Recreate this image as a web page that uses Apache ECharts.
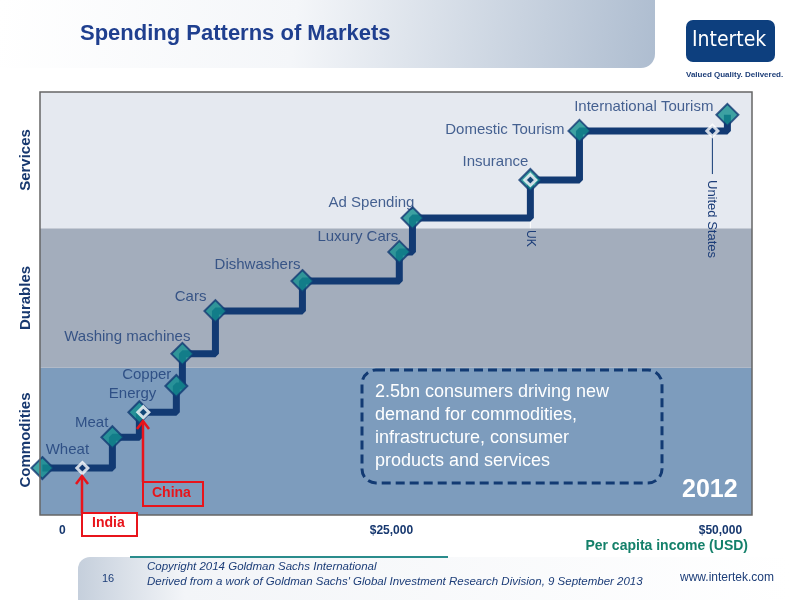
<!DOCTYPE html>
<html><head><meta charset="utf-8">
<script src="https://cdn.jsdelivr.net/npm/echarts@6/dist/echarts.min.js"></script>
<style>html,body{margin:0;padding:0;background:#fff}#c{width:800px;height:600px}</style>
</head><body><div id="c"></div>
<script>
// Steps: [income USD, level index 0-100]
const stepNames = ['Wheat','Meat','Energy','Copper','Washing machines','Cars','Dishwashers','Luxury Cars','Ad Spending','Insurance','Domestic Tourism','International Tourism'];
const stepX = [-1520, 3800, 5850, 8660, 9120, 11630, 18240, 25600, 26600, 35560, 39290, 50530];
const stepY = [11.1, 18.4, 24.3, 30.5, 38.1, 48.2, 55.3, 62.2, 70.2, 79.2, 90.8, 94.6];
const countryNames = ['India','China','UK','United States'];
const countryX = [1520, 6150, 35560, 49390];
const countryY = [11.1, 24.3, 79.2, 90.8];
const xTicks = [0, 25000, 50000];
const xTickLabels = ['0', '$25,000', '$50,000'];
const bands = [['Commodities',0,34.8],['Durables',34.8,67.8],['Services',67.8,100]];

const labelOpts = {
  'Wheat':{position:'top',offset:[25,6]},
  'Meat':{position:'left',offset:[13,-14]},
  'Energy':{position:'left',offset:[34,-18]},
  'Copper':{position:'left',offset:[12,-11]},
  'Washing machines':{position:'left',offset:[25,-17]},
  'Cars':{position:'left',offset:[8,-14]},
  'Dishwashers':{position:'left',offset:[15,-16]},
  'Luxury Cars':{position:'left',offset:[16,-15]},
  'Ad Spending':{position:'left',offset:[19,-15]},
  'Insurance':{position:'left',offset:[15,-18]},
  'Domestic Tourism':{position:'left',offset:[2,-1]},
  'International Tourism':{position:'left',offset:[3,-8]}
};
const bandColors = {'Commodities':'#7d9cbd','Durables':'#a3adbc','Services':'#e5e9f0'};

const chart = echarts.init(document.getElementById('c'));
const lineData = stepX.map((x,i)=>[x,stepY[i]]);
chart.setOption({
  animation:false,
  grid:{left:40,right:48,top:92,bottom:85},
  xAxis:{type:'value',min:-1700,max:52400,splitLine:{show:false},axisLine:{show:false},axisTick:{show:false},
    axisLabel:{customValues:xTicks,formatter:v=>xTickLabels[xTicks.indexOf(v)]||'',color:'#17386f',fontWeight:'bold',fontSize:12,fontFamily:'Liberation Sans',margin:10}},
  yAxis:{type:'value',min:0,max:100,show:false},
  series:[
    {type:'line',step:'end',data:lineData,symbol:'none',lineStyle:{color:'#123a73',width:7},z:3,
      markArea:{silent:true,data:bands.map(b=>[{yAxis:b[1],itemStyle:{color:bandColors[b[0]]}},{yAxis:b[2]}])}},
    {type:'scatter',z:5,symbol:'diamond',symbolSize:22,itemStyle:{color:'#138e8e',borderColor:'#123a73',borderWidth:2},
      data:stepX.map((x,i)=>({value:[x,stepY[i]],label:Object.assign({show:true,formatter:stepNames[i],color:'#1c3d78',fontSize:15,fontFamily:'Liberation Sans'},labelOpts[stepNames[i]])}))},
    {type:'scatter',z:6,symbol:'diamond',symbolSize:11,itemStyle:{color:'#123a73',borderColor:'#ffffff',borderWidth:3},
      data:countryX.map((x,i)=>[x,countryY[i]])},
    {type:'line',z:2,symbol:'none',lineStyle:{color:'#ffffff',width:1},data:[[35560,79.2],[35560,67.8]]},
    {type:'line',z:2,symbol:'none',lineStyle:{color:'#123a73',width:1},data:[[49390,90.8],[49390,80.6]]}
  ],
  graphic:[
    {type:'rect',shape:{x:0,y:0,width:655,height:68,r:[0,0,14,0]},style:{fill:new echarts.graphic.LinearGradient(0,0,1,1,[{offset:0,color:'#ffffff'},{offset:0.45,color:'#f4f6f9'},{offset:1,color:'#aebdd0'}])},z:-1},
    {type:'text',left:80,top:23,style:{text:'Spending Patterns of Markets',fill:'#1f3f8f',font:'bold 22px Liberation Sans'}},
    {type:'rect',shape:{x:686,y:20,width:89,height:42,r:7},style:{fill:'#0d3f7e'}},
    {type:'text',left:692,top:30,style:{text:'Intertek',fill:'#fff',font:'21px DejaVu Sans Condensed, DejaVu Sans'}},
    {type:'text',left:686,top:71,style:{text:'Valued Quality. Delivered.',fill:'#1c3d78',font:'bold 8px Liberation Sans Narrow, Liberation Sans'}},
    {type:'rect',shape:{x:40,y:92,width:712,height:423},style:{fill:'none',stroke:'#666',lineWidth:1.5},z:10},
    {type:'text',x:26,y:160,rotation:Math.PI/2,style:{text:'Services',fill:'#17386f',font:'bold 15px Liberation Sans',align:'center',verticalAlign:'middle'}},
    {type:'text',x:26,y:298,rotation:Math.PI/2,style:{text:'Durables',fill:'#17386f',font:'bold 15px Liberation Sans',align:'center',verticalAlign:'middle'}},
    {type:'text',x:26,y:440,rotation:Math.PI/2,style:{text:'Commodities',fill:'#17386f',font:'bold 15px Liberation Sans',align:'center',verticalAlign:'middle'}},
    {type:'text',x:530,y:230,rotation:-Math.PI/2,style:{text:'UK',fill:'#1c3d78',font:'12px Liberation Sans',verticalAlign:'middle'},z:10},
    {type:'text',x:712,y:180,rotation:-Math.PI/2,style:{text:'United States',fill:'#1c3d78',font:'13px Liberation Sans',verticalAlign:'middle'},z:10},
    {type:'rect',shape:{x:362,y:370,width:300,height:113,r:14},style:{fill:'none',stroke:'#123a73',lineWidth:3,lineDash:[9,5]},z:10},
    {type:'text',left:375,top:381,style:{text:'2.5bn consumers driving new\ndemand for commodities,\ninfrastructure, consumer\nproducts and services',fill:'#fff',font:'18px Liberation Sans',lineHeight:23},z:10},
    {type:'text',left:682,top:478,style:{text:'2012',fill:'#fff',font:'bold 25px Liberation Sans'},z:10},
    {type:'rect',shape:{x:82,y:513,width:55,height:23},style:{fill:'#fff',stroke:'#e8141b',lineWidth:2},z:11},
    {type:'text',left:92,top:516,style:{text:'India',fill:'#e8141b',font:'bold 14px Liberation Sans'},z:12},
    {type:'polyline',shape:{points:[[82,513],[82,476]]},style:{stroke:'#e8141b',lineWidth:2.5},z:11},
    {type:'polyline',shape:{points:[[76,484],[82,476],[88,484]]},style:{stroke:'#e8141b',lineWidth:2.5,fill:'none'},z:11},
    {type:'rect',shape:{x:143,y:482,width:60,height:24},style:{fill:'#7d9cbd',stroke:'#e8141b',lineWidth:2},z:11},
    {type:'text',left:152,top:486,style:{text:'China',fill:'#e8141b',font:'bold 14px Liberation Sans'},z:12},
    {type:'polyline',shape:{points:[[143,482],[143,421]]},style:{stroke:'#e8141b',lineWidth:2.5},z:11},
    {type:'polyline',shape:{points:[[137,429],[143,421],[149,429]]},style:{stroke:'#e8141b',lineWidth:2.5,fill:'none'},z:11},
    {type:'text',right:52,top:539,style:{text:'Per capita income (USD)',fill:'#14806a',font:'bold 14px Liberation Sans'}},
    {type:'rect',shape:{x:78,y:557,width:712,height:43,r:[12,0,0,0]},style:{fill:new echarts.graphic.LinearGradient(0,0,1,0,[{offset:0,color:'#c5cfdc'},{offset:0.15,color:'#f3f5f8'},{offset:1,color:'#ffffff'}])},z:-1},
    {type:'rect',shape:{x:130,y:556,width:318,height:2},style:{fill:'#2a8c8c'}},
    {type:'text',left:102,top:573,style:{text:'16',fill:'#1c3d78',font:'11px Liberation Sans'}},
    {type:'text',left:147,top:559,style:{text:"Copyright 2014 Goldman Sachs International\nDerived from a work of Goldman Sachs' Global Investment Research Division, 9 September 2013",fill:'#1c3d78',font:'italic 11.5px Liberation Sans',lineHeight:15}},
    {type:'text',left:680,top:572,style:{text:'www.intertek.com',fill:'#1c3d78',font:'12px Liberation Sans'}}
  ]
});
</script></body></html>
